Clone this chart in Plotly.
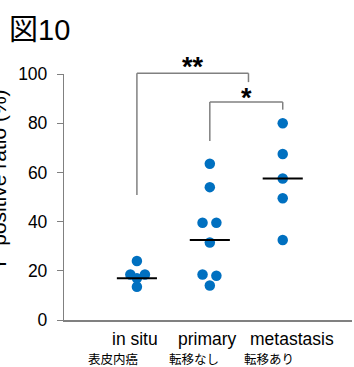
import plotly.graph_objects as go

# ---- data ----
categories = ["in situ", "primary", "metastasis"]
sub_labels = ["表皮内癌", "転移なし", "転移あり"]
in_situ = [24, 18.5, 18.5, 17, 13.5]
primary = [63.5, 54, 39.5, 39.5, 31.5, 18.5, 18, 14]
metastasis = [80, 67.5, 57.5, 49.5, 32.5]
medians = [17, 32.5, 57.5]
y_ticks = [0, 20, 40, 60, 80, 100]

# horizontal spread of overlapping dots (layout only)
jit_in_situ = [0, -0.09, 0.11, 0, 0]
jit_primary = [0, 0, -0.1, 0.09, 0, -0.1, 0.09, 0]
jit_meta = [0, 0, 0, 0, 0]

BLUE = "rgb(0,112,192)"
GRAY = "rgb(128,128,128)"
W, H = 354, 367
L, R, T, B = 64, 2, 73.5, 46.5
PW, PH = W - L - R, H - T - B

fig = go.Figure()
groups = [in_situ, primary, metastasis]
jits = [jit_in_situ, jit_primary, jit_meta]
for i, (vals, jit) in enumerate(zip(groups, jits)):
    fig.add_trace(go.Scatter(
        x=[i + j for j in jit], y=vals, mode="markers",
        marker=dict(size=10.5, color=BLUE), cliponaxis=False,
        showlegend=False, hoverinfo="skip"))

# median bars
mx, my = [], []
for i, m in enumerate(medians):
    mx += [i - 0.275, i + 0.275, None]
    my += [m, m, None]
fig.add_trace(go.Scatter(x=mx, y=my, mode="lines",
                         line=dict(color="black", width=2),
                         showlegend=False, hoverinfo="skip"))

XR = [-1.0, 2.95]
def px_x(p):
    return (p - L) / PW
def px_y(p):
    return (H - B - p) / PH

shapes = []
for (x0, y0, x1, y1) in [(0, 50.8, 0, 100.3), (0, 100.3, 1.53, 100.3), (1.53, 100.3, 1.53, 96.7),
                         (1, 72.8, 1, 88.6), (1, 88.6, 2, 88.6), (2, 88.6, 2, 85.5)]:
    shapes.append(dict(type="line", xref="x", yref="paper", x0=x0, x1=x1,
                       y0=y0 / 100, y1=y1 / 100, line=dict(color=GRAY, width=1.5)))

annotations = []
annotations.append(dict(text="<b>**</b>", x=0.77, y=px_y(66), xref="x", yref="paper",
                        showarrow=False, font=dict(size=27, color="black", family="Liberation Sans"),
                        xanchor="center", yanchor="middle"))
annotations.append(dict(text="<b>*</b>", x=1.5, y=px_y(97.5), xref="x", yref="paper",
                        showarrow=False, font=dict(size=27, color="black", family="Liberation Sans"),
                        xanchor="center", yanchor="middle"))

cat_px = [135, 207.5, 291.5]
for c, p in zip(categories, cat_px):
    annotations.append(dict(text=c, x=px_x(p), y=px_y(340), xref="paper", yref="paper",
                            showarrow=False, xanchor="center", yanchor="middle",
                            font=dict(size=17.5, color="black", family="Liberation Sans")))
sub_px = [113, 194, 269]
for c, p in zip(sub_labels, sub_px):
    annotations.append(dict(text=c, x=px_x(p), y=px_y(359), xref="paper", yref="paper",
                            showarrow=False, xanchor="center", yanchor="middle",
                            font=dict(size=12.5, color="black", family="Noto Sans CJK JP")))

annotations.append(dict(text="図10", x=px_x(7), y=px_y(29), xref="paper", yref="paper",
                        showarrow=False, xanchor="left", yanchor="middle",
                        font=dict(size=29, color="black", family="Liberation Sans, Noto Sans CJK JP")))
annotations.append(dict(text="Y  positive ratio (%)", x=px_x(-2), y=px_y(180), xref="paper", yref="paper",
                        showarrow=False, xanchor="center", yanchor="middle", textangle=-90,
                        font=dict(size=21, color="black", family="Liberation Sans")))

fig.update_layout(
    width=W, height=H, margin=dict(l=L, r=R, t=T, b=B),
    paper_bgcolor="white", plot_bgcolor="white",
    shapes=shapes, annotations=annotations,
    xaxis=dict(range=XR, showgrid=False, zeroline=False, showticklabels=False, ticks="",
               showline=True, linecolor=GRAY, linewidth=1.5, fixedrange=True),
    yaxis=dict(range=[0, 100], tickvals=y_ticks, showgrid=False, zeroline=False,
               ticks="outside", ticklen=6, tickcolor=GRAY, tickwidth=1.3,
               showline=True, linecolor=GRAY, linewidth=1.3, ticklabelstandoff=6,
               tickfont=dict(size=17.5, color="black", family="Liberation Sans"), fixedrange=True),
)

fig.write_html("out.html", config={"displayModeBar": False})
